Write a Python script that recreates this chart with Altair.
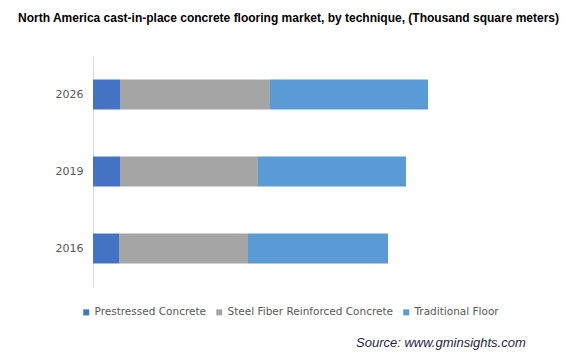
import altair as alt
import pandas as pd

years = ["2026", "2019", "2016"]
techniques = ["Prestressed Concrete", "Steel Fiber Reinforced Concrete", "Traditional Floor"]
prestressed = [27, 27, 26]
steel_fiber = [150, 138, 129]
traditional = [158, 148, 140]
colors = ["#4472C4", "#A5A5A5", "#5B9BD5"]

rows = []
for i, y in enumerate(years):
    for j, (t, vals) in enumerate(zip(techniques, [prestressed, steel_fiber, traditional])):
        rows.append({"Year": y, "Technique": t, "Value": vals[i], "order": j})
df = pd.DataFrame(rows)

bars = alt.Chart(df).mark_bar(size=30).encode(
    y=alt.Y("Year:N", sort=years, title=None,
            scale=alt.Scale(paddingInner=0.61, paddingOuter=0.305),
            axis=alt.Axis(domainColor="#D9D9D9", domainWidth=1, ticks=False, labelPadding=10,
                          labelFont="DejaVu Sans", labelFontSize=11, labelColor="#595959")),
    x=alt.X("Value:Q", stack="zero", title=None,
            scale=alt.Scale(domain=[0, 470], nice=False),
            axis=None),
    color=alt.Color("Technique:N", sort=techniques,
                    scale=alt.Scale(domain=techniques, range=colors),
                    legend=alt.Legend(orient="none", direction="horizontal", legendX=-12, legendY=251,
                                      title=None, symbolType="square", symbolSize=36, labelLimit=400,
                                      labelFont="DejaVu Sans", labelFontSize=10.5, labelColor="#595959",
                                      columnPadding=7, symbolOffset=0, labelOffset=3)),
    order=alt.Order("order:Q"),
)

src = alt.Chart(pd.DataFrame({"t": ["Source: www.gminsights.com"]})).mark_text(
    font="Liberation Sans", fontSize=13, fontStyle="italic", color="#1F1F3F", align="left", baseline="middle"
).encode(text="t:N", x=alt.value(263), y=alt.value(287))

chart = alt.layer(bars, src).properties(
    width=470, height=231,
    title=alt.TitleParams("North America cast-in-place concrete flooring market, by technique, (Thousand square meters)",
                          anchor="start", frame="group", dx=-75, offset=31, font="Liberation Sans",
                          fontSize=12, fontWeight="bold", color="#000000"),
    autosize=alt.AutoSizeParams(type="none"),
    padding={"left": 93, "top": 56, "right": 13, "bottom": 70},
).configure_view(stroke=None)

chart.save("out.html", embed_options={"renderer": "svg", "actions": False})
